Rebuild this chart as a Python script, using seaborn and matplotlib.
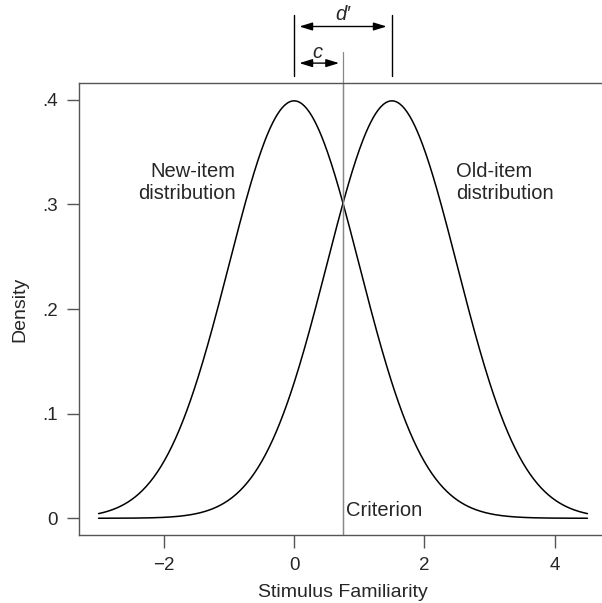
import numpy as np
import pandas as pd
import seaborn as sns
import matplotlib
matplotlib.use("Agg")
import matplotlib.pyplot as plt

# Parameters of the signal-detection model
new_mean = 0.0
old_mean = 1.5
sd = 1.0
criterion = 0.75
x_range = (-3.0, 4.5)
y_ticks = [0, 0.1, 0.2, 0.3, 0.4]
y_ticklabels = ["0", ".1", ".2", ".3", ".4"]
x_ticks = [-2, 0, 2, 4]
x_ticklabels = ["\u22122", "0", "2", "4"]

xs = np.linspace(x_range[0], x_range[1], 400)
def npdf(x, m, s):
    return np.exp(-0.5 * ((x - m) / s) ** 2) / (s * np.sqrt(2 * np.pi))

df = pd.concat([
    pd.DataFrame({"x": xs, "density": npdf(xs, new_mean, sd), "dist": "new"}),
    pd.DataFrame({"x": xs, "density": npdf(xs, old_mean, sd), "dist": "old"}),
])

sns.set_style("ticks")
plt.rcParams["font.family"] = ["Liberation Sans", "DejaVu Sans"]

fig = plt.figure(figsize=(6.02, 6.03), dpi=100)
ax = fig.add_axes([79/602, 68/603, 528/602, 452/603])

sns.lineplot(data=df, x="x", y="density", hue="dist", palette=["black", "black"],
             linewidth=1.1, legend=False, ax=ax)

ax.set_xlim(-3.3, 4.8)
ax.set_ylim(-0.016, 0.416)
ax.set_xticks(x_ticks)
ax.set_xticklabels(x_ticklabels)
ax.set_yticks(y_ticks)
ax.set_yticklabels(y_ticklabels)
ax.tick_params(axis="both", labelsize=13.5, length=9, width=1, color="#555555", pad=6)
ax.tick_params(axis="x", pad=7)
for s in ["left", "bottom", "top"]:
    ax.spines[s].set_visible(True)
    ax.spines[s].set_color("#555555")
    ax.spines[s].set_linewidth(1)
ax.spines["right"].set_visible(False)

ax.set_xlabel("Stimulus Familiarity", fontsize=14, labelpad=7)
ax.set_ylabel("Density", fontsize=14, labelpad=10)

# criterion line (extends above axes)
tr = ax.get_xaxis_transform()
ax.plot([criterion, criterion], [0, 1.069], transform=tr, color="#888888",
        linewidth=0.9, clip_on=False)
ax.axvline(criterion, color="#888888", linewidth=0.9)

# d' bars and arrow
for m in [new_mean, old_mean]:
    ax.plot([m, m], [1.0155, 1.151], transform=tr, color="black", linewidth=1,
            clip_on=False)
arrow_kw = dict(arrowstyle="<|-|>,head_length=0.65,head_width=0.2", color="black",
                lw=1, mutation_scale=12, shrinkA=0, shrinkB=0)
ax.annotate("", xy=(old_mean - 0.08, 1.125), xytext=(new_mean + 0.08, 1.125),
            xycoords=tr, textcoords=tr, arrowprops=arrow_kw)
ax.text((new_mean + old_mean) / 2, 1.152, "d\u2032", transform=tr, ha="center",
        va="center", fontsize=14.5, style="italic")
ax.annotate("", xy=(criterion - 0.06, 1.044), xytext=(new_mean + 0.08, 1.044),
            xycoords=tr, textcoords=tr, arrowprops=arrow_kw)
ax.text((new_mean + criterion) / 2 - 0.02, 1.068, "c", transform=tr, ha="center",
        va="center", fontsize=14.5, style="italic")

ax.text(-0.9, 0.321, "New-item\ndistribution", ha="right", va="center",
        fontsize=14.5, linespacing=1.15)
ax.text(2.48, 0.321, "Old-item\ndistribution", ha="left", va="center",
        fontsize=14.5, linespacing=1.15)
ax.text(criterion + 0.05, 0.007, "Criterion", ha="left", va="center", fontsize=14.5)

fig.savefig("out.png", dpi=100)
